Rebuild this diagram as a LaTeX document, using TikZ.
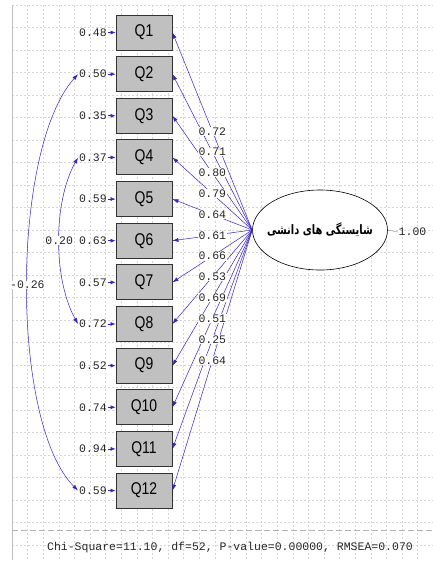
\documentclass[tikz,border=0pt]{standalone}
\usepackage{fontspec}
\usepackage{graphicx}
\usetikzlibrary{arrows.meta,shapes.geometric,calc}
\setmainfont{Liberation Sans}
\newfontfamily\numfont{Liberation Mono}
\newfontfamily\farsifont[Script=Arabic]{DejaVu Sans}
\TeXXeTstate=1
\definecolor{pathblue}{RGB}{55,35,190}
\definecolor{boxgray}{RGB}{192,192,192}
\newcommand{\narrowtext}[1]{\scalebox{0.82}[1]{#1}}

\begin{document}
\begin{tikzpicture}[x=1pt,y=-1pt,
    item/.style={draw=black!80,line width=0.9pt,fill=boxgray,minimum width=56pt,minimum height=35pt,inner sep=0pt,font=\fontsize{17}{17}\selectfont},
    errval/.style={anchor=east,inner sep=1pt,text=black!85,font=\numfont\fontsize{11.5}{11.5}\selectfont},
    coef/.style={fill=white,inner sep=0.5pt,text=black!85,font=\numfont\fontsize{11.5}{11.5}\selectfont},
    factor/.style={ellipse,draw,line width=0.6pt,fill=white,minimum width=135pt,minimum height=80pt,inner sep=0pt},
    load/.style={-{Latex[length=6pt,width=4pt]},line width=0.5pt,pathblue},
    resid/.style={-{Latex[length=5pt,width=4pt]},line width=0.6pt,pathblue},
    cov/.style={{Latex[length=6pt,width=4pt]}-{Latex[length=6pt,width=4pt]},line width=0.5pt,pathblue},
    gridline/.style={black!16,line width=0.4pt,dash pattern=on 2pt off 2pt}
]
\useasboundingbox (0,0) rectangle (433,563);
% background grid
\foreach \x in {12,27.6,...,433}
    \draw[gridline] (\x,5) -- (\x,560);
\foreach \y in {5,27.5,...,560}
    \draw[gridline] (12,\y) -- (433,\y);
\draw[black!25,line width=0.5pt] (12,5) -- (12,560);
\draw[black!30,line width=0.5pt,dash pattern=on 6pt off 3pt] (12,530) -- (433,530);
% observed items and error variances
\foreach \i/\e in {1/0.48,2/0.50,3/0.35,4/0.37,5/0.59,6/0.63,7/0.57,8/0.72,9/0.52,10/0.74,11/0.94,12/0.59} {
    \node[item] (q\i) at (144,{32.5+(\i-1)*41.64}) {\narrowtext{Q\i}};
    \node[errval] (e\i) at (108,{32.5+(\i-1)*41.64}) {\e};
}
% latent factor
\node[factor] (f) at (320,230) {\makebox[80pt]{\scalebox{0.76}[1]{\farsifont\bfseries\fontsize{13}{13}\selectfont\beginR شایستگی های دانشی\endR}}};
\node[coef,fill=none,anchor=west] (v) at (398,232) {1.00};
\draw[black!40,line width=0.5pt] (f.east) -- (v.west);
% paths
\foreach \i in {1,...,12}
    \draw[load] (f.west) -- (q\i.east);
\foreach \i/\l in {1/0.72,2/0.71,3/0.80,4/0.79,5/0.64,6/0.61,7/0.66,8/0.53,9/0.69,10/0.51,11/0.25,12/0.64}
    \node[coef] (l\i) at ($(f.west)!0.5!(q\i.east)$) {\l};
\foreach \i in {1,...,12}
    \draw[resid] (e\i) -- (q\i);
% error covariances
\draw[cov] (e2.west) .. controls +(-67,75) and +(-68,-68) .. (e12.west)
    node[coef,pos=0.5] (c1) {-0.26};
\draw[cov] (e4.west) .. controls +(-25,45) and +(-25,-45) .. (e8.west)
    node[coef,pos=0.5] (c2) {0.20};
% fit statistics
\node[font=\numfont\fontsize{11.5}{11.5}\selectfont,text=black!85] (fit) at (230,548) {Chi-Square=11.10, df=52, P-value=0.00000, RMSEA=0.070};
\end{tikzpicture}
\end{document}
